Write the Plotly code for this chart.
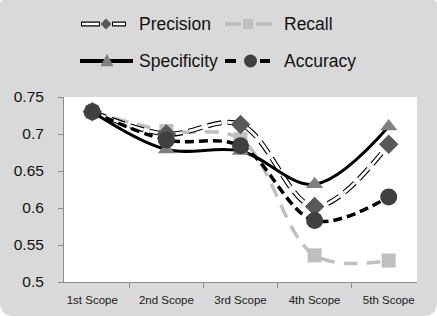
import plotly.graph_objects as go

categories = ["1st Scope", "2nd Scope", "3rd Scope", "4th Scope", "5th Scope"]
precision = [0.730, 0.700, 0.713, 0.602, 0.686]
recall = [0.730, 0.704, 0.693, 0.536, 0.529]
specificity = [0.730, 0.679, 0.677, 0.632, 0.710]
accuracy = [0.730, 0.692, 0.684, 0.583, 0.615]
y_ticks = [0.5, 0.55, 0.6, 0.65, 0.7, 0.75]
series_names = ["Precision", "Recall", "Specificity", "Accuracy"]

W, H = 437, 316
ML, MR, MT, MB = 64, 20, 97, 34
PW, PH = W - ML - MR, H - MT - MB
FONT = "Liberation Sans, Arial, sans-serif"


def px(x):
    return (x - ML) / PW


def py(y):
    return (H - MB - y) / PH


fig = go.Figure()

fig.add_trace(go.Scatter(x=categories, y=recall, name="Recall", mode="lines+markers",
    line=dict(color="#bfbfbf", width=3.5, dash="14px,9px", shape="spline"),
    marker=dict(symbol="square", size=14, color="#bfbfbf")))
fig.add_trace(go.Scatter(x=categories, y=precision, name="Precision", mode="lines",
    line=dict(color="#000000", width=5, dash="14px,6px", shape="spline"),
    hoverinfo="skip"))
fig.add_trace(go.Scatter(x=categories, y=precision, name="Precision", mode="lines+markers",
    line=dict(color="#ffffff", width=2.8, dash="14px,6px", shape="spline"),
    marker=dict(symbol="diamond", size=15, color="#595959")))
fig.add_trace(go.Scatter(x=categories, y=specificity, name="Specificity", mode="lines+markers",
    line=dict(color="#000000", width=3, shape="spline"),
    marker=dict(symbol="triangle-up", size=15, color="#808080")))
fig.add_trace(go.Scatter(x=categories, y=accuracy, name="Accuracy", mode="lines+markers",
    line=dict(color="#000000", width=3.5, dash="9px,5px", shape="spline"),
    marker=dict(symbol="circle", size=17, color="#404040")))

shapes = []
# rounded gray card background
rb = 14  # bottom corner radius (px)
rt = 4
path = (f"M {px(rt)},{py(0)} L {px(W - rt)},{py(0)} Q {px(W)},{py(0)} {px(W)},{py(rt)} "
        f"L {px(W)},{py(H - rb)} Q {px(W)},{py(H)} {px(W - rb)},{py(H)} "
        f"L {px(rb)},{py(H)} Q {px(0)},{py(H)} {px(0)},{py(H - rb)} "
        f"L {px(0)},{py(rt)} Q {px(0)},{py(0)} {px(rt)},{py(0)} Z")
shapes.append(dict(type="path", path=path, xref="paper", yref="paper",
                   fillcolor="#d9d9d9", line=dict(width=0), layer="below"))
shapes.append(dict(type="rect", xref="paper", yref="paper", x0=0, x1=1, y0=0, y1=1,
                   fillcolor="#ffffff", line=dict(width=0), layer="below"))


def hline(xa, xb, y, color, width, dash="solid"):
    shapes.append(dict(type="line", xref="paper", yref="paper", x0=px(xa), x1=px(xb),
                       y0=py(y), y1=py(y), line=dict(color=color, width=width, dash=dash)))


def marker_path(kind, cx, cy, s, color):
    h = s / 2
    if kind == "diamond":
        pts = [(cx, cy - h), (cx + h, cy), (cx, cy + h), (cx - h, cy)]
    elif kind == "square":
        pts = [(cx - h, cy - h), (cx + h, cy - h), (cx + h, cy + h), (cx - h, cy + h)]
    else:  # triangle
        pts = [(cx, cy - h * 1.1), (cx + h, cy + h * 0.8), (cx - h, cy + h * 0.8)]
    p = "M " + " L ".join(f"{px(a)},{py(b)}" for a, b in pts) + " Z"
    shapes.append(dict(type="path", path=p, xref="paper", yref="paper",
                       fillcolor=color, line=dict(width=0)))


r1, r2 = 24, 61
# Precision legend symbol
for a, b in [(81, 100), (112, 126)]:
    hline(a, b, r1, "#000000", 5)
    hline(a + 1, b - 1, r1, "#ffffff", 2.5)
marker_path("diamond", 106, r1, 11, "#595959")
# Recall
hline(225, 241, r1, "#bfbfbf", 4)
hline(256, 272, r1, "#bfbfbf", 4)
marker_path("square", 248, r1, 10, "#bfbfbf")
# Specificity
hline(80, 133, r2, "#000000", 4)
marker_path("triangle", 107, r2, 13, "#808080")
# Accuracy
hline(225, 236, r2, "#000000", 4)
hline(260, 270, r2, "#000000", 4)
shapes.append(dict(type="circle", xref="paper", yref="paper", x0=px(244), x1=px(257),
                   y0=py(r2 + 6.5), y1=py(r2 - 6.5), fillcolor="#404040", line=dict(width=0)))

annotations = []
for name, (tx, ty) in zip(series_names, [(137, r1), (282, r1), (137, r2), (282, r2)]):
    annotations.append(dict(text=name, x=px(tx), y=py(ty), xref="paper", yref="paper",
                            xanchor="left", yanchor="middle", showarrow=False,
                            font=dict(family=FONT, size=17.5, color="#111111")))

fig.update_layout(
    width=W, height=H,
    margin=dict(l=ML, r=MR, t=MT, b=MB),
    paper_bgcolor="#ffffff", plot_bgcolor="rgba(0,0,0,0)",
    showlegend=False,
    shapes=shapes, annotations=annotations,
    xaxis=dict(showgrid=False, showline=True, linecolor="#8c8c8c", linewidth=1,
        ticks="outside", tickson="boundaries", ticklen=5, tickcolor="#8c8c8c",
        ticklabelstandoff=7, automargin=False,
        tickfont=dict(family=FONT, size=11.5, color="#1a1a1a")),
    yaxis=dict(range=[0.5, 0.75], tickvals=y_ticks, showgrid=False, showline=True,
        linecolor="#8c8c8c", linewidth=1, ticks="outside", ticklen=5, tickcolor="#8c8c8c",
        ticklabelstandoff=11, automargin=False,
        tickfont=dict(family=FONT, size=15.5, color="#111111"), zeroline=False),
)

fig.write_html("out.html")
